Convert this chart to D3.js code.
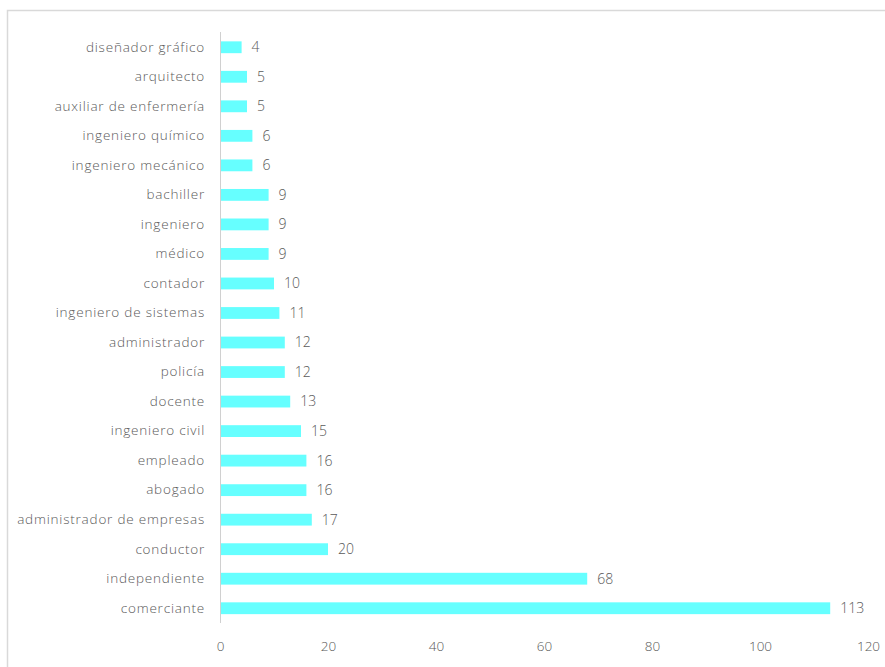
<!DOCTYPE html>
<html><head><meta charset="utf-8">
<script src="https://cdn.jsdelivr.net/npm/d3@7"></script>
<style>body{margin:0;background:#fff}svg{display:block}text{font-family:"Open Sans",sans-serif;}</style>
</head><body><svg id="c" width="885" height="667"></svg>
<script>
const categories = ["diseñador gráfico","arquitecto","auxiliar de enfermería","ingeniero químico","ingeniero mecánico","bachiller","ingeniero","médico","contador","ingeniero de sistemas","administrador","policía","docente","ingeniero civil","empleado","abogado","administrador de empresas","conductor","independiente","comerciante"];
const values = [4,5,5,6,6,9,9,9,10,11,12,12,13,15,16,16,17,20,68,113];
const ticks = [0,20,40,60,80,100,120];

const svg = d3.select("#c");
svg.append("rect").attr("x",7.5).attr("y",10.5).attr("width",900).attr("height",700)
  .attr("fill","#fff").attr("stroke","#d9d9d9").attr("stroke-width",1.5);

const x = d3.scaleLinear().domain([0,120]).range([220,868]);
const y = d3.scaleBand().domain(categories).range([32.5,623]).paddingInner(0.6).paddingOuter(0.3);

svg.append("g").selectAll("rect").data(values).join("rect")
  .attr("x",x(0)).attr("y",(d,i)=>y(categories[i]))
  .attr("width",d=>x(d)-x(0)).attr("height",y.bandwidth())
  .attr("fill","#66FFFF");

svg.append("line").attr("x1",x(0)+0.5).attr("x2",x(0)+0.5).attr("y1",32).attr("y2",623)
  .attr("stroke","#d0d0d0").attr("stroke-width",1);

const yAxis = d3.axisLeft(y).tickSize(0).tickPadding(15);
const gy = svg.append("g").attr("transform",`translate(${x(0)},0)`).call(yAxis);
gy.select(".domain").remove();
gy.selectAll("text").attr("fill","#595959").style("font-size","13.5px").style("font-weight","300").style("letter-spacing","0.8px");

const xAxis = d3.axisBottom(x).tickValues(ticks).tickSize(0).tickPadding(16);
const gx = svg.append("g").attr("transform","translate(0,625)").call(xAxis);
gx.select(".domain").remove();
gx.selectAll("text").attr("fill","#595959").style("font-size","13.5px").style("font-weight","300");

svg.append("g").selectAll("text").data(values).join("text")
  .attr("x",d=>x(d)+10).attr("y",(d,i)=>y(categories[i])+y.bandwidth()/2)
  .attr("dy","0.35em").attr("fill","#595959").style("font-size","14px").style("font-weight","300")
  .text(d=>d);
</script></body></html>
